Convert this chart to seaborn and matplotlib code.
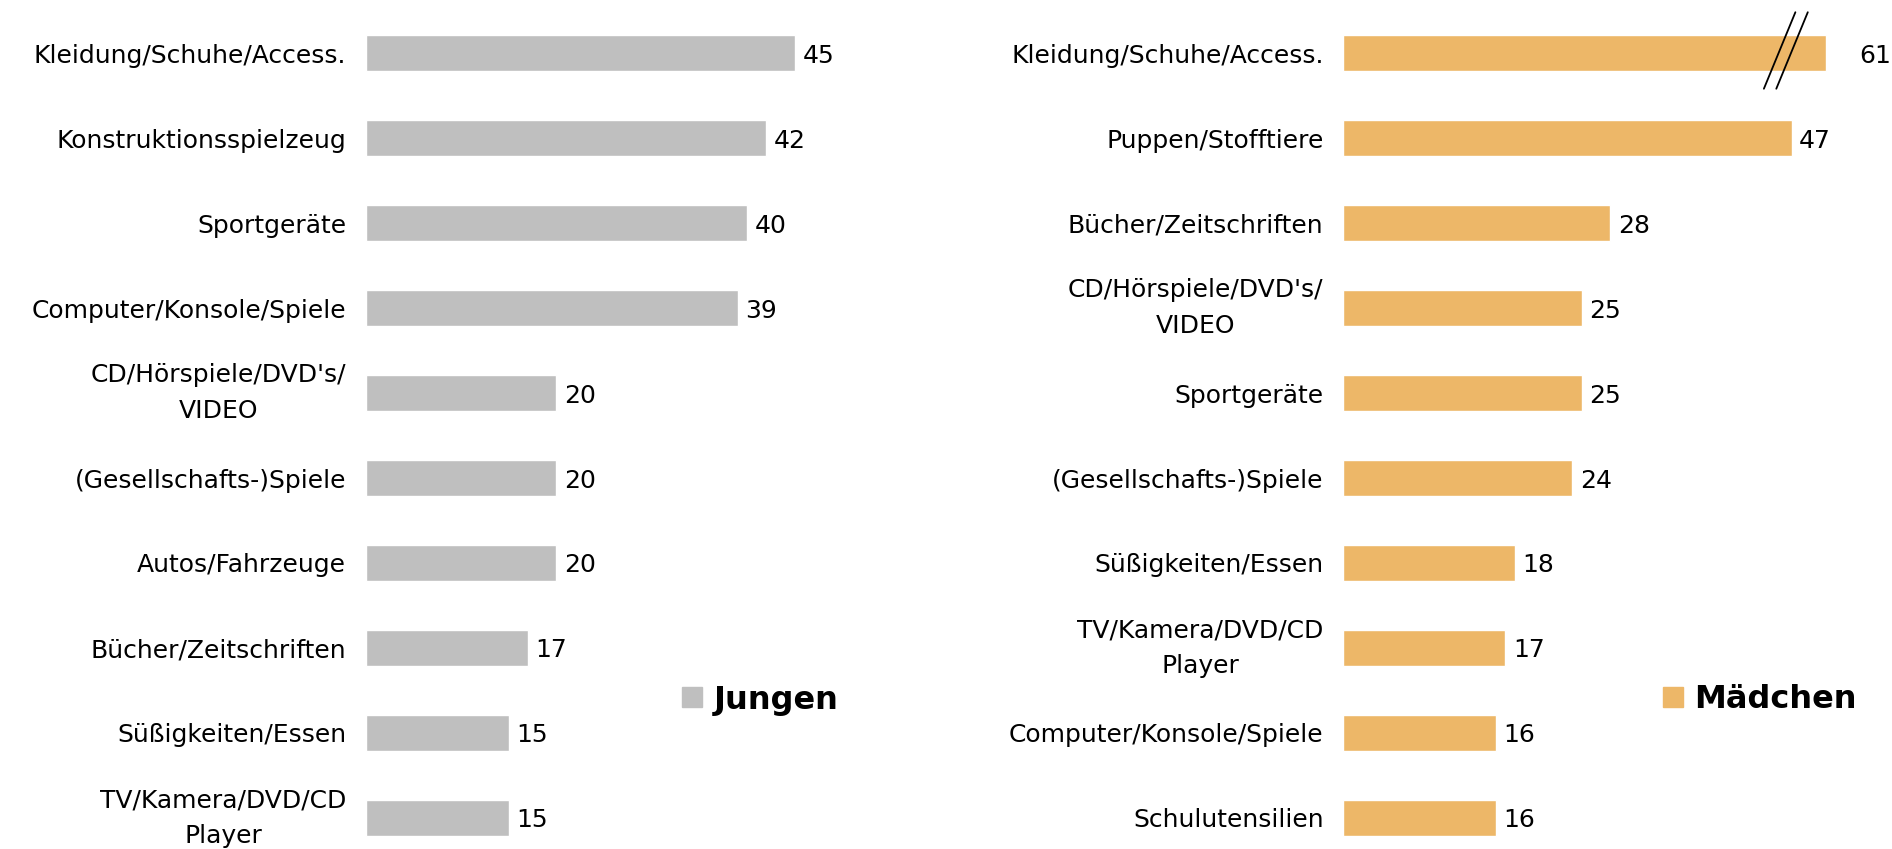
"""Geschenkwünsche Jungen vs. Mädchen – horizontale Balken."""

import matplotlib
matplotlib.use("Agg")
import matplotlib.pyplot as plt
from matplotlib.lines import Line2D
import pandas as pd
import seaborn as sns

# Daten
jungen_kategorien = [
    "Kleidung/Schuhe/Access.",
    "Konstruktionsspielzeug",
    "Sportgeräte",
    "Computer/Konsole/Spiele",
    "CD/Hörspiele/DVD's/\nVIDEO",
    "(Gesellschafts-)Spiele",
    "Autos/Fahrzeuge",
    "Bücher/Zeitschriften",
    "Süßigkeiten/Essen",
    "TV/Kamera/DVD/CD\nPlayer",
]
jungen_werte = [45, 42, 40, 39, 20, 20, 20, 17, 15, 15]

maedchen_kategorien = [
    "Kleidung/Schuhe/Access.",
    "Puppen/Stofftiere",
    "Bücher/Zeitschriften",
    "CD/Hörspiele/DVD's/\nVIDEO",
    "Sportgeräte",
    "(Gesellschafts-)Spiele",
    "Süßigkeiten/Essen",
    "TV/Kamera/DVD/CD\nPlayer",
    "Computer/Konsole/Spiele",
    "Schulutensilien",
]
maedchen_werte = [61, 47, 28, 25, 25, 24, 18, 17, 16, 16]

GRAU = "#BFBFBF"
ORANGE = "#EDB768"
KAPPUNG = 50.6  # Balken über diesem Wert werden mit Bruchzeichen gekürzt
FS = 18

sns.set_theme(style="white")
plt.rcParams["font.family"] = ["DejaVu Sans"]
plt.rcParams["text.color"] = "black"
plt.rcParams["ytick.color"] = "black"

fig = plt.figure(figsize=(18.92, 8.49), dpi=100)
px = 1 / 1892
ax_j = fig.add_axes([365.6 * px, 0, 477 * px, 1])
ax_m = fig.add_axes([1343 * px, 0, 544 * px, 1])


def draw_panel(ax, kategorien, werte, farbe, xmax, legend_label, legend_x):
    anzeige = [min(w, KAPPUNG) for w in werte]
    df = pd.DataFrame({"kat": kategorien, "wert": anzeige})
    sns.barplot(data=df, y="kat", x="wert", color=farbe, width=0.43,
                saturation=1, ax=ax, orient="h")
    for i, (w, a) in enumerate(zip(werte, anzeige)):
        if w > a:
            # Bruchzeichen, Label weiter rechts
            for dx in (0, 1.3):
                ax.add_line(Line2D([44.1 + dx, 47.4 + dx], [i + 0.42, i - 0.48],
                                   color="black", lw=1.3, clip_on=False))
            ax.text(a + 3.5, i, f"{w}", va="center_baseline", ha="left",
                    fontsize=FS)
        else:
            ax.text(a + 0.8, i, f"{w}", va="center_baseline", ha="left",
                    fontsize=FS)

    ax.set_xlim(0, xmax)
    ax.set_ylim(9.365, -0.624)
    ax.set_xlabel("")
    ax.set_ylabel("")
    ax.set_xticks([])
    ax.tick_params(axis="y", length=0, pad=14, labelsize=FS)
    for lbl in ax.get_yticklabels():
        if "\n" in lbl.get_text():
            lbl.set_multialignment("center")
            lbl.set_verticalalignment("center")
            lbl.set_linespacing(1.6)
    sns.despine(ax=ax, left=True, bottom=True)

    handle = Line2D([], [], marker="s", linestyle="", color=farbe,
                    markersize=15)
    ax.legend([handle], [legend_label], loc="center left",
              bbox_to_anchor=(legend_x * px, 1 - 700 / 849),
              bbox_transform=fig.transFigure, frameon=False,
              borderpad=0, borderaxespad=0, handlelength=0.75,
              handletextpad=0.3, prop={"weight": "bold", "size": 23})


draw_panel(ax_j, jungen_kategorien, jungen_werte, GRAU, 50, "Jungen", 680)
draw_panel(ax_m, maedchen_kategorien, maedchen_werte, ORANGE, 57, "Mädchen", 1661)

fig.savefig("out.png", dpi=100)
